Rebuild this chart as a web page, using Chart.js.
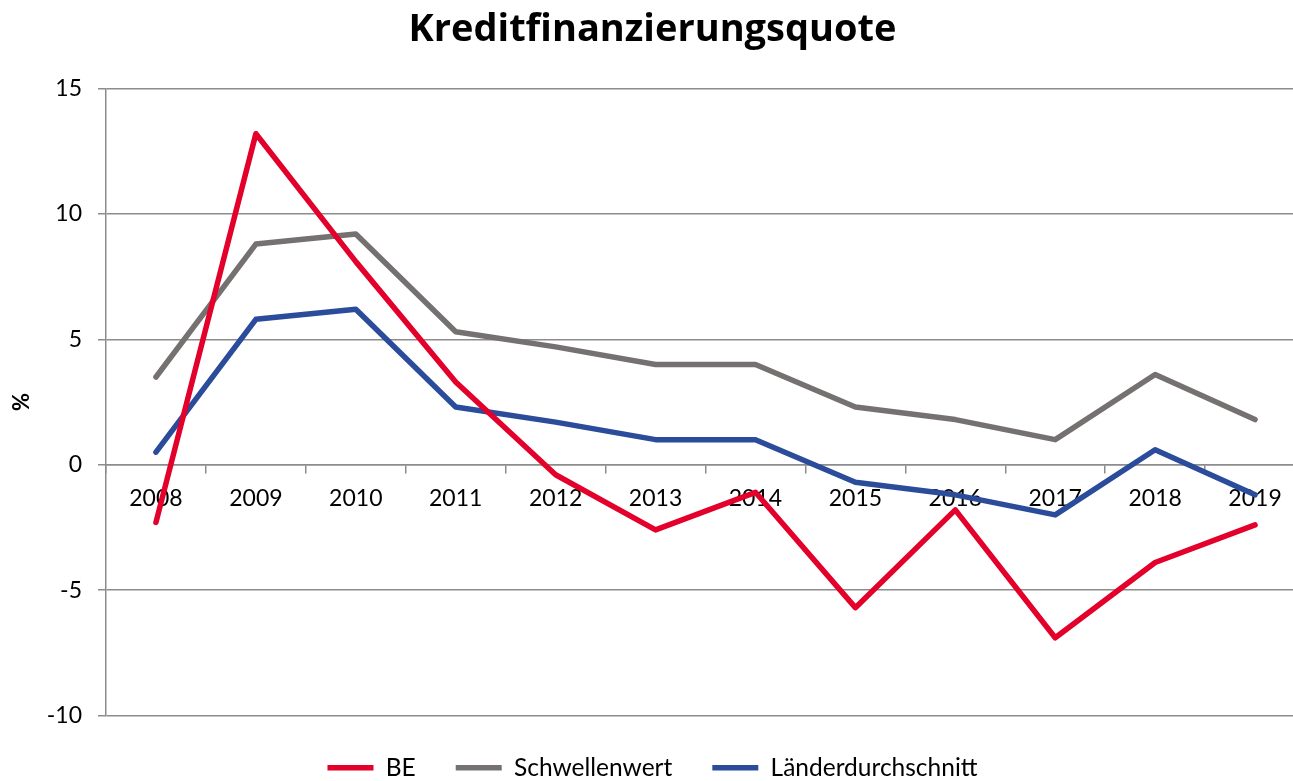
<!DOCTYPE html>
<html lang="de">
<head>
    <meta charset="UTF-8">
    <title>Kreditfinanzierungsquote</title>
    <script src="https://cdn.jsdelivr.net/npm/chart.js"></script>
    <style>
        html, body {
            margin: 0;
            padding: 0;
            background-color: #ffffff;
            overflow: hidden;
        }
        .chart-container {
            position: relative;
            width: 1310px;
            height: 790px;
        }
    </style>
</head>
<body>
    <div class="chart-container">
        <canvas id="chart"></canvas>
    </div>

    <script>
        const years = ['2008', '2009', '2010', '2011', '2012', '2013', '2014', '2015', '2016', '2017', '2018', '2019'];
        const beValues = [-2.3, 13.2, 8.1, 3.3, -0.4, -2.6, -1.1, -5.7, -1.8, -6.9, -3.9, -2.4];
        const schwellenwert = [3.5, 8.8, 9.2, 5.3, 4.7, 4.0, 4.0, 2.3, 1.8, 1.0, 3.6, 1.8];
        const laenderschnitt = [0.5, 5.8, 6.2, 2.3, 1.7, 1.0, 1.0, -0.7, -1.2, -2.0, 0.6, -1.2];

        const gridColor = '#8c8c8c';
        const fontName = 'Lato, "Open Sans", sans-serif';

        function lineSet(label, values, color) {
            return {
                label: label,
                data: values,
                borderColor: color,
                backgroundColor: color,
                borderWidth: 5.5,
                borderCapStyle: 'round',
                borderJoinStyle: 'round',
                pointRadius: 0,
                pointHoverRadius: 0,
                tension: 0,
                fill: false
            };
        }

        const ctx = document.getElementById('chart').getContext('2d');
        new Chart(ctx, {
            type: 'line',
            data: {
                labels: years,
                datasets: [
                    lineSet('BE', beValues, '#e3002b'),
                    lineSet('Schwellenwert', schwellenwert, '#767171'),
                    lineSet('Länderdurchschnitt', laenderschnitt, '#2b4b9b')
                ]
            },
            options: {
                responsive: true,
                maintainAspectRatio: false,
                animation: false,
                layout: {
                    padding: { left: 0, right: 5, top: 0, bottom: 0 }
                },
                plugins: {
                    title: {
                        display: true,
                        text: 'Kreditfinanzierungsquote',
                        color: '#000000',
                        font: { family: '"Open Sans", sans-serif', size: 38, weight: 'bold' },
                        padding: { top: 7, bottom: 36 }
                    },
                    legend: {
                        position: 'bottom',
                        labels: {
                            color: '#000000',
                            font: { family: fontName, size: 24.5 },
                            usePointStyle: true,
                            pointStyle: 'line',
                            pointStyleWidth: 46,
                            padding: 40
                        }
                    },
                    tooltip: { enabled: false }
                },
                scales: {
                    x: {
                        type: 'category',
                        position: { y: 0 },
                        offset: true,
                        grid: {
                            offset: true,
                            drawOnChartArea: false,
                            drawTicks: true,
                            tickLength: 8,
                            color: gridColor,
                            lineWidth: 1.5
                        },
                        border: { color: gridColor, width: 1.5 },
                        ticks: {
                            color: '#000000',
                            font: { family: fontName, size: 23 },
                            padding: 12,
                            maxRotation: 0,
                            autoSkip: false
                        }
                    },
                    y: {
                        min: -10,
                        max: 15,
                        afterFit: (scale) => { scale.width = 106; },
                        ticks: {
                            stepSize: 5,
                            color: '#000000',
                            font: { family: fontName, size: 23 },
                            padding: 16
                        },
                        grid: {
                            color: gridColor,
                            lineWidth: 1.5,
                            tickLength: 8
                        },
                        border: { color: gridColor, width: 1.5 },
                        title: {
                            display: true,
                            text: '%',
                            color: '#000000',
                            font: { family: fontName, size: 22, weight: 'bold' },
                            padding: { top: 9, bottom: 13 }
                        }
                    }
                }
            }
        });
    </script>
</body>
</html>
